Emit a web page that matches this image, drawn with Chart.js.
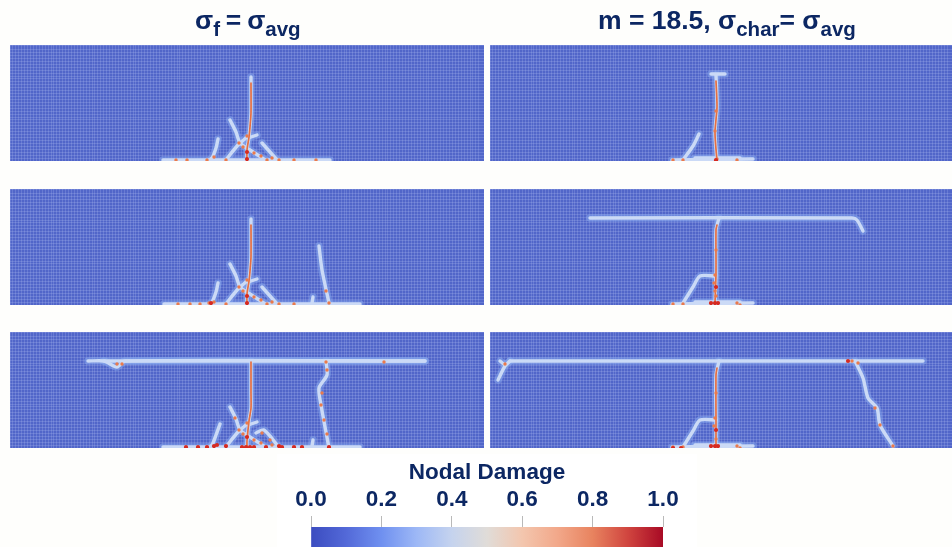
<!DOCTYPE html>
<html><head><meta charset="utf-8">
<script src="https://cdn.jsdelivr.net/npm/chart.js@4"></script>
<style>
html,body{margin:0;padding:0;background:#fefefc;overflow:hidden}
body{width:952px;height:547px;position:relative;font-family:"Liberation Sans",Arial,sans-serif}
canvas{position:absolute;display:block}
.mesh{filter:blur(.75px)}
.head{position:absolute;white-space:nowrap;font-weight:700;font-size:26.5px;line-height:30px;color:#0c2763;filter:blur(.2px)}
.head sub{font-size:20.5px;vertical-align:-7px;line-height:0}
</style></head><body>
<div class="head" style="left:195px;top:5px;word-spacing:-1.5px">σ<sub>f</sub> = σ<sub>avg</sub></div>
<div class="head" style="left:598px;top:5px">m = 18.5, σ<sub>char</sub>= σ<sub>avg</sub></div>
<canvas id="a" class="mesh" width="474" height="116" style="left:10px;top:45px"></canvas>
<canvas id="d" class="mesh" width="462" height="116" style="left:490px;top:45px"></canvas>
<canvas id="b" class="mesh" width="474" height="116" style="left:10px;top:189px"></canvas>
<canvas id="e" class="mesh" width="462" height="116" style="left:490px;top:189px"></canvas>
<canvas id="c" class="mesh" width="474" height="116" style="left:10px;top:332px"></canvas>
<canvas id="f" class="mesh" width="462" height="116" style="left:490px;top:332px"></canvas>
<canvas id="bar" width="420" height="93" style="left:277px;top:454px;background:#fff"></canvas>
<script>
// Crack paths: [x along specimen, height above base]
const sharedBranches = [
  [[220,41],[226,29],[230,18],[240,11],[257,0]],
  [[237,24],[228,16],[215,0]],
  [[208,22],[206,13],[202,3],[198,0]],
  [[238,23],[247,26]]
];
const sharedHot = [
  [[241,78],[241,48],[240,34],[239,24],[237,11],[237,0]]
];
const panelA_cracks = [
  [[241,84],[241,48],[240,34],[239,24],[237,11],[237,0]],
  ...sharedBranches,
  [[252,18],[260,9],[268,0]],
  [[153,1],[320,1]]
];
const panelA_hot = sharedHot;
const panelA_orange = [[166,1],[177,1],[197,1],[204,4],[216,1],[229,18],[237,25],[233,14],[257,1],[269,1],[284,1],[306,1],[244,8],[251,5],[262,3]];
const panelA_red = [[237,2],[237,9]];

const panelB_cracks = [
  [[241,86],[241,48],[240,34],[239,24],[237,11],[237,0]],
  ...sharedBranches,
  [[252,18],[260,9],[268,0]],
  [[309,59],[312,35],[319,2]],
  [[303,8],[302,2]],
  [[154,1],[350,1]]
];
const panelB_hot = [[[241,80],[241,48],[240,34],[239,24],[237,11],[237,0]]];
const panelB_orange = [[168,1],[180,1],[190,1],[199,2],[204,3],[216,1],[229,18],[237,25],[233,14],[257,1],[269,1],[284,1],[319,2],[244,8],[251,5],[262,3],[316,14]];
const panelB_red = [[237,2],[237,9],[201,2]];

const panelC_cracks = [
  [[78,87],[94,87],[107,81],[115,87],[415,87]],
  [[94,87],[415,87]],
  [[241,87],[241,56],[241,40],[239,27],[237,7],[237,0]],
  [[316,87],[317,73],[309,60],[311,43],[319,0]],
  [[220,41],[226,29],[230,18],[240,11],[257,0]],
  [[237,24],[228,16],[215,0]],
  [[210,24],[206,13],[202,3],[198,0]],
  [[238,23],[247,26]],
  [[246,15],[254,18],[268,2]],
  [[303,8],[302,2]],
  [[153,1],[350,1]]
];
const panelC_hot = [
  [[241,86],[241,56],[241,40],[239,27],[237,7],[237,0]]
];
const panelC_orange = [[107,84],[112,84],[316,86],[317,78],[312,55],[311,43],[314,28],[317,14],[229,18],[237,25],[233,14],[244,8],[251,5],[262,3],[374,86],[225,30],[252,15],[260,8]];
const panelC_red = [[176,1],[188,1],[197,1],[204,2],[207,3],[216,2],[232,1],[236,1],[240,1],[244,1],[237,11],[269,2],[272,1],[284,1],[319,1],[256,1],[292,1]];

const panelD_cracks = [
  [[226,86],[227,54],[225,28],[227,0]],
  [[221,87],[235,87]],
  [[209,27],[203,15],[193,1]],
  [[182,1],[263,2]],
  [[205,3],[250,3]]
];
const panelD_hot = [[[226,80],[227,54],[225,28],[227,0]]];
const panelD_orange = [[183,1],[193,1],[227,2],[247,1],[226,50],[225,30]];
const panelD_red = [[226,1]];

const panelE_cracks = [
  [[100,87],[362,87],[367,85],[373,74]],
  [[229,87],[226,75],[226,32],[225,2]],
  [[225,29],[210,29],[203,18],[193,2]],
  [[182,1],[263,2]],
  [[205,3],[250,3]]
];
const panelE_hot = [[[227,80],[226,75],[226,32],[225,2]]];
const panelE_orange = [[183,1],[193,1],[247,2],[250,0],[226,55],[225,30],[225,14],[224,22],[226,9]];
const panelE_red = [[221,2],[225,2],[228,2],[226,18]];

const panelF_cracks = [
  [[20,87],[433,87]],
  [[20,87],[15,82],[8,68]],
  [[10,87],[15,83]],
  [[229,87],[226,73],[226,28],[226,0]],
  [[226,28],[210,28],[203,17],[193,1]],
  [[365,87],[373,70],[378,50],[387,40],[390,23],[403,2]],
  [[182,1],[263,2]],
  [[205,3],[250,3]]
];
const panelF_hot = [[[227,80],[226,73],[226,28],[226,0]]];
const panelF_orange = [[183,1],[193,1],[247,2],[250,0],[226,55],[225,30],[362,87],[368,85],[385,40],[390,23],[403,2],[15,84],[224,22],[226,9]];
const panelF_red = [[221,2],[225,2],[228,2],[226,18],[358,87],[183,0],[191,0]];

// Colour bar
const barTickLabels = ['0.0','0.2','0.4','0.6','0.8','1.0'];
const barStops  = [0,0.1,0.2,0.3,0.4,0.5,0.6,0.7,0.8,0.9,1];
const barColors = ['#3b4cc0','#5369d8','#6f90f0','#9db8f6','#c5d3ee','#e0dcd8','#f3c6ae','#f2a88a','#e8835f','#d0453f','#a80a25'];

const pts = p => p.map(([x,y]) => ({x,y}));
function lineSet(p, color, width){
  return {data:pts(p), borderColor:color, borderWidth:width, pointRadius:0, tension:0.25, fill:false,
          borderCapStyle:'round', borderJoinStyle:'round', showLine:true};
}
function dotSet(p, color, r){
  return {data:pts(p), showLine:false, pointRadius:r, pointStyle:'circle',
          pointBackgroundColor:color, pointBorderWidth:0};
}
function panel(id, maxX, cracks, hot, orange, red){
  const ds = [];
  cracks.forEach(c => ds.push(lineSet(c,'rgba(135,170,240,.5)',7.5)));
  cracks.forEach(c => ds.push(lineSet(c,'#cbdaf6',3.4)));
  hot.forEach(c => ds.push(lineSet(c,'#e66f42',1.7)));
  ds.push(dotSet(orange,'#ea7a4c',1.7));
  ds.push(dotSet(red,'#d62a20',2.1));
  ds.reverse(); // Chart.js paints the first dataset last
  new Chart(document.getElementById(id),{
    type:'scatter',
    data:{datasets:ds},
    plugins:[{id:'plate',beforeDraw(ch){const {ctx,chartArea:a}=ch;ctx.save();ctx.fillStyle='#5166c9';ctx.fillRect(a.left,a.top,a.width,a.height);ctx.restore();}}],
    options:{
      responsive:false,animation:false,
      layout:{padding:0,autoPadding:false},
      plugins:{legend:{display:false},tooltip:{enabled:false},title:{display:false}},
      scales:{
        x:{type:'linear',min:0,max:maxX,border:{display:false},
           grid:{color:'rgba(185,200,245,.22)',lineWidth:1,drawTicks:false},
           ticks:{display:false,stepSize:2.93,autoSkip:false}},
        y:{type:'linear',min:0,max:116,border:{display:false},
           grid:{color:'rgba(185,200,245,.22)',lineWidth:1,drawTicks:false},
           ticks:{display:false,stepSize:2.93,autoSkip:false}}
      }
    }
  });
}
panel('a',474,panelA_cracks,panelA_hot,panelA_orange,panelA_red);
panel('b',474,panelB_cracks,panelB_hot,panelB_orange,panelB_red);
panel('c',474,panelC_cracks,panelC_hot,panelC_orange,panelC_red);
panel('d',462,panelD_cracks,panelD_hot,panelD_orange,panelD_red);
panel('e',462,panelE_cracks,panelE_hot,panelE_orange,panelE_red);
panel('f',462,panelF_cracks,panelF_hot,panelF_orange,panelF_red);

new Chart(document.getElementById('bar'),{
  type:'bar',
  data:{labels:['Nodal Damage'],datasets:[{
    data:[[0,1]],barPercentage:1,categoryPercentage:1,borderWidth:0,
    backgroundColor(ctx){
      const a=ctx.chart.chartArea; if(!a) return barColors[0];
      const g=ctx.chart.ctx.createLinearGradient(a.left,0,a.right,0);
      barStops.forEach((s,i)=>g.addColorStop(s,barColors[i]));
      return g;
    }
  }]},
  options:{
    indexAxis:'y',responsive:false,animation:false,
    layout:{padding:{left:34,right:34,top:0,bottom:0},autoPadding:false},
    plugins:{legend:{display:false},tooltip:{enabled:false}},
    scales:{
      y:{display:false},
      x:{type:'linear',position:'top',min:0,max:1,
         afterFit(s){s.height=73;},
         border:{display:false},
         grid:{drawOnChartArea:false,tickLength:11,color:'#b9b9b9',lineWidth:1},
         title:{display:true,text:'Nodal Damage',color:'#0c2763',font:{family:'"Liberation Sans"',size:22.5,weight:'700'},padding:{top:5,bottom:0}},
         ticks:{stepSize:0.2,autoSkip:false,maxRotation:0,color:'#0c2763',padding:3,
                font:{family:'"Liberation Sans"',size:22.5,weight:'700'},
                callback:(v,i)=>barTickLabels[i]}
      }
    }
  }
});
</script></body></html>
